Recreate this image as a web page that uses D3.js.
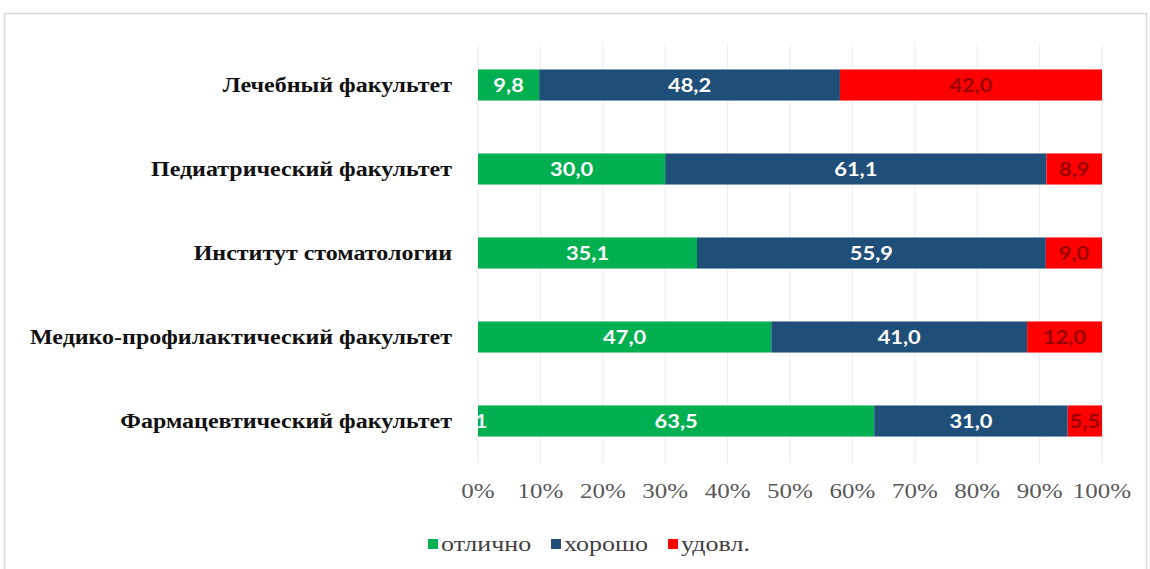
<!DOCTYPE html>
<html><head><meta charset="utf-8">
<script src="https://cdn.jsdelivr.net/npm/d3@7"></script>
<style>
html,body{margin:0;padding:0;background:#fff;}
svg{display:block;}
</style></head>
<body>
<svg id="chart" width="1150" height="569"></svg>
<script>
const categories = ["Лечебный факультет","Педиатрический факультет","Институт стоматологии","Медико-профилактический факультет","Фармацевтический факультет"];
const seriesNames = ["отлично","хорошо","удовл."];
const excellent = [9.8, 30.0, 35.1, 47.0, 63.5];
const good = [48.2, 61.1, 55.9, 41.0, 31.0];
const satisfactory = [42.0, 8.9, 9.0, 12.0, 5.5];
const tickValues = [0,10,20,30,40,50,60,70,80,90,100];
const colors = ["#00b050","#1f4e79","#ff0000"];
const labelColors = ["#ffffff","#ffffff","#9a0000"];

const serif = "'Liberation Serif', 'Times New Roman', serif";
const svg = d3.select("#chart");
svg.append("rect").attr("x",4.5).attr("y",13.5).attr("width",1142).attr("height",600)
  .attr("fill","#fff").attr("stroke","#d9d9d9").attr("stroke-width",1.5);

const x = d3.scaleLinear().domain([0,100]).range([478,1102]);
const y = d3.scaleBand().domain(categories).range([43,463]).paddingInner(0.63).paddingOuter(0.315);

svg.append("g").selectAll("line").data(tickValues).join("line")
  .attr("x1",d=>x(d)).attr("x2",d=>x(d)).attr("y1",43).attr("y2",463)
  .attr("stroke","#ececec").attr("stroke-width",1);

const rows = categories.map((c,i)=>({cat:c, vals:[excellent[i],good[i],satisfactory[i]]}));
const segs = [];
rows.forEach(r=>{let acc=0; r.vals.forEach((v,k)=>{segs.push({cat:r.cat,k,x0:acc,x1:acc+v,v}); acc+=v;});});

svg.append("g").selectAll("rect").data(segs).join("rect")
  .attr("x",d=>x(d.x0)).attr("width",d=>x(d.x1)-x(d.x0))
  .attr("y",d=>y(d.cat)).attr("height",y.bandwidth())
  .attr("fill",d=>colors[d.k]);

const fmt = v=>v.toFixed(1).replace(".",",");
svg.append("g").selectAll("text").data(segs).join("text")
  .attr("transform",d=>`translate(${x((d.x0+d.x1)/2)},${y(d.cat)+y.bandwidth()/2}) scale(1.15,1)`)
  .attr("dy","0.36em").attr("text-anchor","middle")
  .attr("font-family","Lato, 'Open Sans', sans-serif").attr("font-weight","bold").attr("font-size",19)
  .attr("fill",d=>labelColors[d.k]).text(d=>fmt(d.v));

svg.append("text").attr("transform",`translate(${x(0)+3},${y(categories[4])+y.bandwidth()/2}) scale(1.15,1)`).attr("dy","0.36em")
  .attr("text-anchor","middle").attr("font-family","Lato, sans-serif").attr("font-weight","bold")
  .attr("font-size",19).attr("fill","#e8f0f8").text("1");

svg.append("g").selectAll("text").data(categories).join("text")
  .attr("transform",d=>`translate(452,${y(d)+y.bandwidth()/2}) scale(1.2,1)`).attr("dy","0.36em")
  .attr("text-anchor","end").attr("font-family",serif)
  .attr("font-weight","bold").attr("font-size",20).attr("fill","#111").text(d=>d);

const xAxis = d3.axisBottom(x).tickValues(tickValues).tickFormat(d=>d+"%").tickSize(0).tickPadding(0);
const ax = svg.append("g").attr("transform","translate(0,484)").call(xAxis);
ax.select(".domain").remove();
ax.selectAll("text").attr("font-family",serif).attr("transform","scale(1.25,1)")
  .attr("x",function(){return 0;})
  .attr("font-size",20).attr("fill","#595959").attr("dy","0.71em");
// apply stretch around each tick's own position
ax.selectAll(".tick").each(function(d){
  d3.select(this).attr("transform",`translate(${x(d)},0) scale(1.25,1)`);
  d3.select(this).select("text").attr("transform",null);
});

const legendX = [428, 551, 668];
const lg = svg.append("g").selectAll("g").data(seriesNames).join("g")
  .attr("transform",(d,i)=>`translate(${legendX[i]},545)`);
lg.append("rect").attr("x",0).attr("y",-6).attr("width",10).attr("height",10).attr("fill",(d,i)=>colors[i]);
lg.append("text").attr("transform","translate(13,0) scale(1.3,1)").attr("dy","0.32em")
  .attr("font-family",serif).attr("font-size",20)
  .attr("fill","#404040").text(d=>d);
</script>
</body></html>
